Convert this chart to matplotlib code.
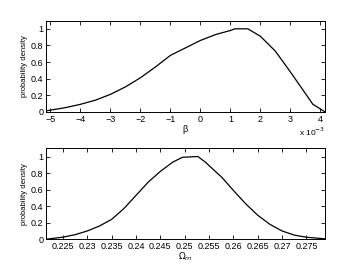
import matplotlib
matplotlib.use('Agg')
import matplotlib.pyplot as plt

# beta in units of 1e-3
beta = [-5.15, -5.0, -4.5, -4.0, -3.5, -3.0, -2.5, -2.0, -1.5, -1.0, -0.5,
        0.0, 0.5, 1.0, 1.15, 1.58, 2.0, 2.5, 3.0, 3.5, 3.75, 4.15]
p_beta = [0.01, 0.02, 0.05, 0.09, 0.14, 0.21, 0.30, 0.41, 0.54, 0.68, 0.77,
          0.86, 0.93, 0.98, 1.0, 1.0, 0.91, 0.73, 0.48, 0.22, 0.09, 0.0]

om = [0.2215, 0.225, 0.2275, 0.23, 0.2325, 0.235, 0.2375, 0.24, 0.2425, 0.245,
      0.2475, 0.2495, 0.2527, 0.2543, 0.255, 0.2576, 0.26, 0.2625, 0.265,
      0.2675, 0.27, 0.2725, 0.275, 0.2788]
p_om = [0.0, 0.025, 0.055, 0.10, 0.16, 0.24, 0.37, 0.53, 0.69, 0.82,
        0.93, 0.99, 1.0, 0.93, 0.89, 0.75, 0.59, 0.43, 0.29,
        0.18, 0.10, 0.05, 0.024, 0.005]

plt.rcParams['font.family'] = ['Liberation Sans', 'DejaVu Sans']
plt.rcParams['font.size'] = 6.5

fig = plt.figure(figsize=(3.59, 2.70), dpi=100)
ax1 = fig.add_axes([0.128, 0.586, 0.777, 0.338])
ax2 = fig.add_axes([0.128, 0.114, 0.777, 0.337])

for ax in (ax1, ax2):
    ax.tick_params(direction='in', top=True, right=True, length=3, width=0.6,
                   labelsize=6.5, pad=2)
    for s in ax.spines.values():
        s.set_linewidth(0.7)
    ax.set_ylim(0, 1.1)
    ax.set_yticks([0, 0.2, 0.4, 0.6, 0.8, 1])
    ax.set_yticklabels(['0', '0.2', '0.4', '0.6', '0.8', '1'])
    ax.set_ylabel('probability density', fontsize=5.5, labelpad=2)

ax1.plot(beta, p_beta, color='black', lw=0.9)
ax1.set_xlim(beta[0], beta[-1])
ax1.set_xticks(range(-5, 5))
ax1.set_xticklabels([str(v).replace('-', '\u2212') for v in range(-5, 5)])
ax1.set_xlabel('\u03b2', fontsize=6.5, labelpad=1)
ax1.text(1.0, -0.22, 'x 10$^{-3}$', transform=ax1.transAxes,
         ha='right', va='center', fontsize=6)

ax2.plot(om, p_om, color='black', lw=0.9)
ax2.set_xlim(om[0], om[-1])
xt = [0.225, 0.23, 0.235, 0.24, 0.245, 0.25, 0.255, 0.26, 0.265, 0.27, 0.275]
ax2.set_xticks(xt)
ax2.set_xticklabels(['%g' % v for v in xt])
ax2.set_xlabel('$\\Omega_m$', fontsize=6.5, labelpad=0)

fig.savefig('out.png', dpi=100)
